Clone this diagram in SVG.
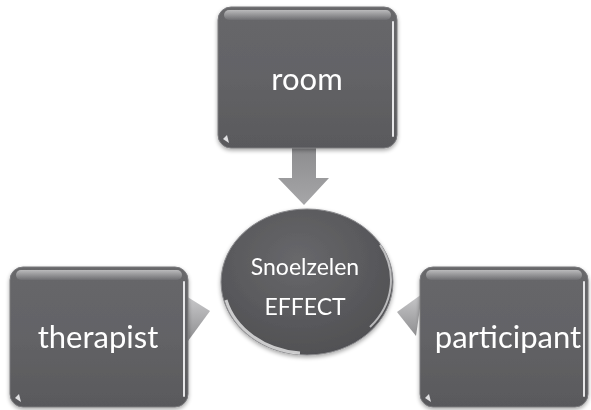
<svg xmlns="http://www.w3.org/2000/svg" width="591" height="410" viewBox="0 0 591 410">
<defs>
<linearGradient id="boxFill" x1="0" y1="0" x2="0" y2="1">
<stop offset="0" stop-color="#67676a"/>
<stop offset="0.5" stop-color="#636366"/>
<stop offset="1" stop-color="#59595c"/>
</linearGradient>
<linearGradient id="gloss" x1="0" y1="0" x2="0" y2="1">
<stop offset="0" stop-color="#ffffff" stop-opacity="0.55"/>
<stop offset="1" stop-color="#ffffff" stop-opacity="0.05"/>
</linearGradient>
<radialGradient id="ellFill" cx="0.45" cy="0.35" r="0.7">
<stop offset="0" stop-color="#68686b"/>
<stop offset="1" stop-color="#4f4f52"/>
</radialGradient>
<linearGradient id="arrowV" x1="0" y1="0" x2="0" y2="1">
<stop offset="0" stop-color="#8d8d8f"/>
<stop offset="1" stop-color="#a6a6a8"/>
</linearGradient>
<linearGradient id="arrowH" x1="0" y1="0" x2="0" y2="1">
<stop offset="0" stop-color="#c9c9cb"/>
<stop offset="1" stop-color="#8e8e90"/>
</linearGradient>
<filter id="sh" x="-10%" y="-10%" width="120%" height="125%">
<feGaussianBlur in="SourceAlpha" stdDeviation="2"/>
<feOffset dx="0" dy="2"/>
<feComponentTransfer><feFuncA type="linear" slope="0.35"/></feComponentTransfer>
<feMerge><feMergeNode/><feMergeNode in="SourceGraphic"/></feMerge>
</filter>
</defs>
<style>
.lbl{font-family:Lato,"Open Sans","Liberation Sans",sans-serif;fill:#ffffff;text-anchor:middle}
.big{font-size:31px}
.small{font-size:23px}
.box{fill:url(#boxFill);stroke:#7a7a7d;stroke-width:1}
.gl{fill:url(#gloss)}
.edge{fill:none;stroke:#e6e6e8;stroke-width:2;stroke-linecap:round}
</style>
<rect width="591" height="410" fill="#ffffff"/>
<g id="connectors">
<path d="M292,148 L316,148 L316,178 L329,178 L304,205 L278,178 L292,178 Z" fill="url(#arrowV)"/>
<path d="M186,296 L210,311 L188,341 Z" fill="url(#arrowH)"/>
<path d="M422,294 L397,312 L416,336 Z" fill="url(#arrowH)"/>
</g>
<g id="room" filter="url(#sh)">
<rect class="box" x="218" y="7" width="179" height="141" rx="13"/>
<rect class="gl" x="224" y="10" width="167" height="10" rx="5"/>
<path class="edge" d="M393,22 L393,136"/>
<path d="M223,139 L227,135 L229,143 Z" fill="#e0e0e2"/>
<text class="lbl big" x="307" y="90">room</text>
</g>
<g id="therapist" filter="url(#sh)">
<rect class="box" x="10" y="267" width="178" height="140" rx="13"/>
<rect class="gl" x="16" y="270" width="166" height="10" rx="5"/>
<path class="edge" d="M184,282 L184,396"/>
<path d="M15,398 L19,394 L21,402 Z" fill="#e0e0e2"/>
<text class="lbl big" x="98" y="348">therapist</text>
</g>
<g id="participant" filter="url(#sh)">
<rect class="box" x="420" y="267" width="168" height="140" rx="13"/>
<rect class="gl" x="426" y="270" width="156" height="10" rx="5"/>
<path class="edge" d="M584,282 L584,396"/>
<path d="M425,398 L429,394 L431,402 Z" fill="#e0e0e2"/>
<text class="lbl big" x="508" y="348">participant</text>
</g>
<g id="effect" filter="url(#sh)">
<ellipse cx="307" cy="282" rx="86" ry="73" fill="url(#ellFill)" stroke="#8a8a8d" stroke-width="1"/>
<path d="M226,300 A84,71 0 0 0 300,353" fill="none" stroke="#ffffff" stroke-opacity="0.7" stroke-width="3"/>
<path d="M380,245 A84,71 0 0 1 370,327" fill="none" stroke="#ffffff" stroke-opacity="0.6" stroke-width="2"/>
<text class="lbl small" x="305" y="275">Snoelzelen</text>
<text class="lbl small" x="305" y="315">EFFECT</text>
</g>
</svg>
